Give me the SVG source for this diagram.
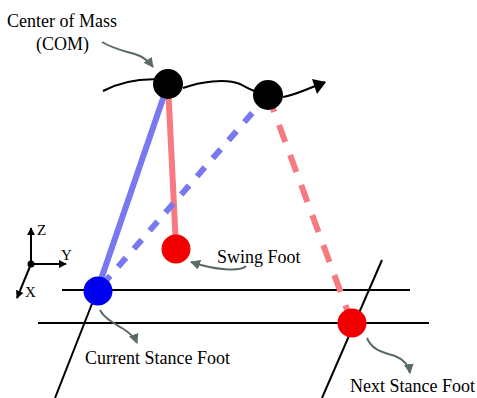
<svg xmlns="http://www.w3.org/2000/svg" width="477" height="398" viewBox="0 0 477 398">
<defs>
<style>
.t{font-family:'Liberation Serif','DejaVu Serif',serif;font-size:18px;fill:#000}
.ax{font-family:'Liberation Serif','DejaVu Serif',serif;font-size:15px;fill:#000}
.k{stroke:#000;stroke-width:2;fill:none}
.g{stroke:#5a6a66;stroke-width:2;fill:none}
.blue{stroke:#7878f0;stroke-width:6;fill:none}
.red{stroke:#f77a80;stroke-width:6;fill:none}
</style>
<marker id="ah" viewBox="0 0 10 10" refX="9" refY="5" markerWidth="5" markerHeight="5" orient="auto"><path d="M0,0L10,5L0,10z" fill="#5a6a66"/></marker>
<marker id="ak" viewBox="0 0 10 10" refX="9" refY="5" markerWidth="4" markerHeight="4" orient="auto"><path d="M0,0L10,5L0,10z" fill="#000"/></marker>
</defs>
<rect width="477" height="398" fill="#fff"/>
<g id="ground">
<line class="k" x1="62" y1="290" x2="410" y2="290"/>
<line class="k" x1="38" y1="323" x2="429" y2="323"/>
<line class="k" x1="97" y1="291" x2="55" y2="398"/>
<line class="k" x1="382" y1="260" x2="322" y2="398"/>
</g>
<g id="connectors">
<line class="blue" x1="168" y1="84" x2="97" y2="291"/>
<line class="red" x1="168" y1="84" x2="176" y2="247"/>
<line class="blue" x1="268" y1="95" x2="97" y2="291" stroke-dasharray="12 12"/>
<line class="red" x1="268" y1="95" x2="352" y2="323" stroke-dasharray="18 14"/>
<path class="k" stroke-width="2.5" d="M103,91 C120,82 140,77 168,80 M183,88 C200,82 225,78 240,84 C248,88 252,92 268,95 M283,97 C295,95 305,90 325,82"/>
<path d="M326,82 L312,79 L317,94 Z" fill="#000"/>
<path class="g" d="M102,42 C115,50 130,52 140,56 C146,59 150,63 153,67" marker-end="url(#ah)"/>
<path class="g" d="M246,266 C240,272 215,270 191,262" marker-end="url(#ah)"/>
<path class="g" d="M100,310 C104,318 112,322 122,328 C130,333 135,338 137,343" marker-end="url(#ah)"/>
<path class="g" d="M367,338 C372,350 382,352 395,356 C405,360 409,366 410,373" marker-end="url(#ah)"/>
</g>
<g id="com1"><circle cx="168" cy="84" r="15" fill="#000"/></g>
<g id="com2"><circle cx="268" cy="95" r="15" fill="#000"/></g>
<g id="swing-foot"><circle cx="176" cy="249" r="14.5" fill="#f20000"/></g>
<g id="current-stance"><circle cx="98" cy="291" r="14.5" fill="#0000f0"/></g>
<g id="next-stance"><circle cx="352" cy="323" r="14.5" fill="#f20000"/></g>
<g id="axes">
<line class="k" x1="31" y1="264" x2="31" y2="228" marker-end="url(#ak)"/>
<line class="k" x1="31" y1="264" x2="66" y2="264" marker-end="url(#ak)"/>
<line class="k" x1="31" y1="264" x2="17" y2="298" marker-end="url(#ak)"/>
<circle cx="31" cy="264" r="3.5" fill="#000"/>
<text class="ax" x="37" y="235">Z</text>
<text class="ax" x="61" y="260">Y</text>
<text class="ax" x="25" y="297">X</text>
</g>
<g id="labels">
<text class="t" x="7" y="27">Center of Mass</text>
<text class="t" x="36" y="50">(COM)</text>
<text class="t" x="217" y="263">Swing Foot</text>
<text class="t" x="85" y="364">Current Stance Foot</text>
<text class="t" x="350" y="392">Next Stance Foot</text>
</g>
</svg>
